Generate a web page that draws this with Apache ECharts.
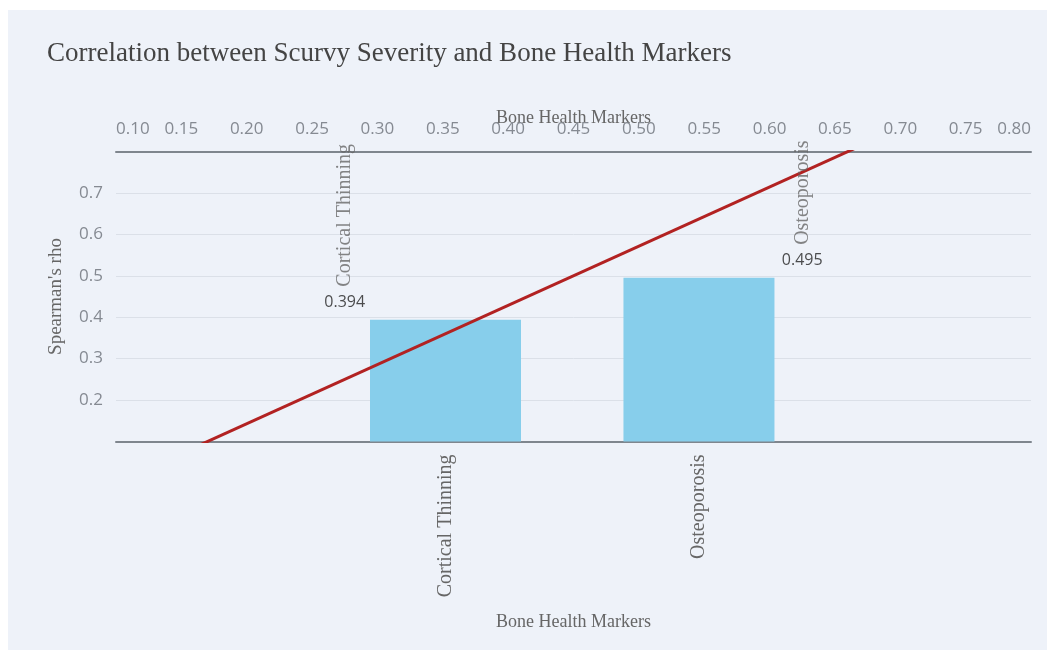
<!DOCTYPE html>
<html>
<head>
<meta charset="utf-8">
<script src="https://cdn.jsdelivr.net/npm/echarts@6/dist/echarts.min.js"></script>
<style>
  body { margin: 0; background: #ffffff; }
  #chart { position: absolute; left: 8px; top: 10px; width: 1039px; height: 640px; background: #eef2f9; }
</style>
</head>
<body>
<div id="chart"></div>
<script>
// bone health markers and their Spearman correlation with scurvy severity
const markers = ['Cortical Thinning', 'Osteoporosis']
const rho = [0.394, 0.495]
// where the annotations sit on the top (continuous) axis
const labelX = [0.275, 0.625]
// reference line drawn on the top axis
const refX = [0.1, 0.8]
const refY = [0.0, 1.0]

const serif = '"Liberation Serif", "DejaVu Serif", serif'
const sans = '"Open Sans", "Liberation Sans", sans-serif'
const axisGray = '#7f868e'
const tickGray = '#858a92'

const chart = echarts.init(document.getElementById('chart'))

const option = {
  backgroundColor: '#eef2f9',
  animation: false,
  title: {
    text: 'Correlation between Scurvy Severity and Bone Health Markers',
    left: 34,
    top: 25,
    textStyle: { fontFamily: serif, fontSize: 27, fontWeight: 'normal', color: '#444' }
  },
  grid: { left: 108, right: 16, top: 141.5, bottom: 208.5 },
  xAxis: [
    {
      // bottom axis: marker categories placed at 0 and 1
      type: 'value',
      position: 'bottom',
      min: -1.3,
      max: 2.31,
      name: 'Bone Health Markers',
      nameLocation: 'middle',
      nameGap: 172,
      nameTextStyle: { fontFamily: serif, fontSize: 18, color: '#666' },
      axisLine: { show: true, onZero: false, lineStyle: { color: axisGray, width: 2 } },
      axisTick: { show: false },
      splitLine: { show: false },
      axisLabel: {
        customValues: [0, 1],
        rotate: 90,
        margin: 13,
        fontFamily: serif,
        fontSize: 20,
        color: '#666',
        formatter: v => markers[Math.round(v)] || ''
      }
    },
    {
      type: 'value',
      position: 'top',
      min: 0.1,
      max: 0.8,
      interval: 0.05,
      name: 'Bone Health Markers',
      nameLocation: 'middle',
      nameGap: 24,
      nameMoveOverlap: false,
      nameTextStyle: { fontFamily: serif, fontSize: 18, color: '#666' },
      axisLine: { show: true, onZero: false, lineStyle: { color: axisGray, width: 2 } },
      axisTick: { show: false },
      splitLine: { show: false },
      axisLabel: {
        margin: 14,
        fontFamily: sans,
        fontSize: 17,
        color: tickGray,
        alignMinLabel: 'left',
        alignMaxLabel: 'right',
        formatter: v => v.toFixed(2)
      }
    }
  ],
  yAxis: {
    type: 'value',
    min: 0.1,
    max: 0.8,
    interval: 0.1,
    name: "Spearman's rho",
    nameLocation: 'middle',
    nameGap: 50,
    nameTextStyle: { fontFamily: serif, fontSize: 19, color: '#666' },
    axisLine: { show: false },
    axisTick: { show: false },
    splitLine: { lineStyle: { color: '#dbe0e8', width: 1 } },
    axisLabel: {
      margin: 13,
      fontFamily: sans,
      fontSize: 17,
      color: tickGray,
      showMinLabel: false,
      showMaxLabel: false,
      formatter: v => v.toFixed(1)
    }
  },
  series: [
    {
      type: 'bar',
      xAxisIndex: 0,
      barWidth: 151,
      itemStyle: { color: '#87ceeb' },
      data: rho.map((v, i) => [i, v])
    },
    {
      type: 'line',
      xAxisIndex: 1,
      symbol: 'none',
      clip: true,
      lineStyle: { color: '#b22222', width: 3 },
      data: refX.map((x, i) => [x, refY[i]]),
      z: 5
    },
    {
      // value annotations
      type: 'scatter',
      xAxisIndex: 1,
      symbolSize: 0,
      label: {
        show: true,
        position: 'top',
        distance: 9,
        fontFamily: sans,
        fontSize: 16,
        color: '#222',
        formatter: p => p.value[1].toFixed(3)
      },
      data: labelX.map((x, i) => [x, rho[i]]),
      z: 6
    },
    {
      // marker name annotations, rotated
      type: 'scatter',
      xAxisIndex: 1,
      symbolSize: 0,
      label: {
        show: true,
        position: 'top',
        distance: 33,
        rotate: 90,
        align: 'left',
        verticalAlign: 'middle',
        fontFamily: serif,
        fontSize: 20,
        color: '#666',
        formatter: p => markers[p.dataIndex]
      },
      data: labelX.map((x, i) => [x, rho[i]]),
      z: 6
    }
  ]
}

chart.setOption(option)
</script>
</body>
</html>
